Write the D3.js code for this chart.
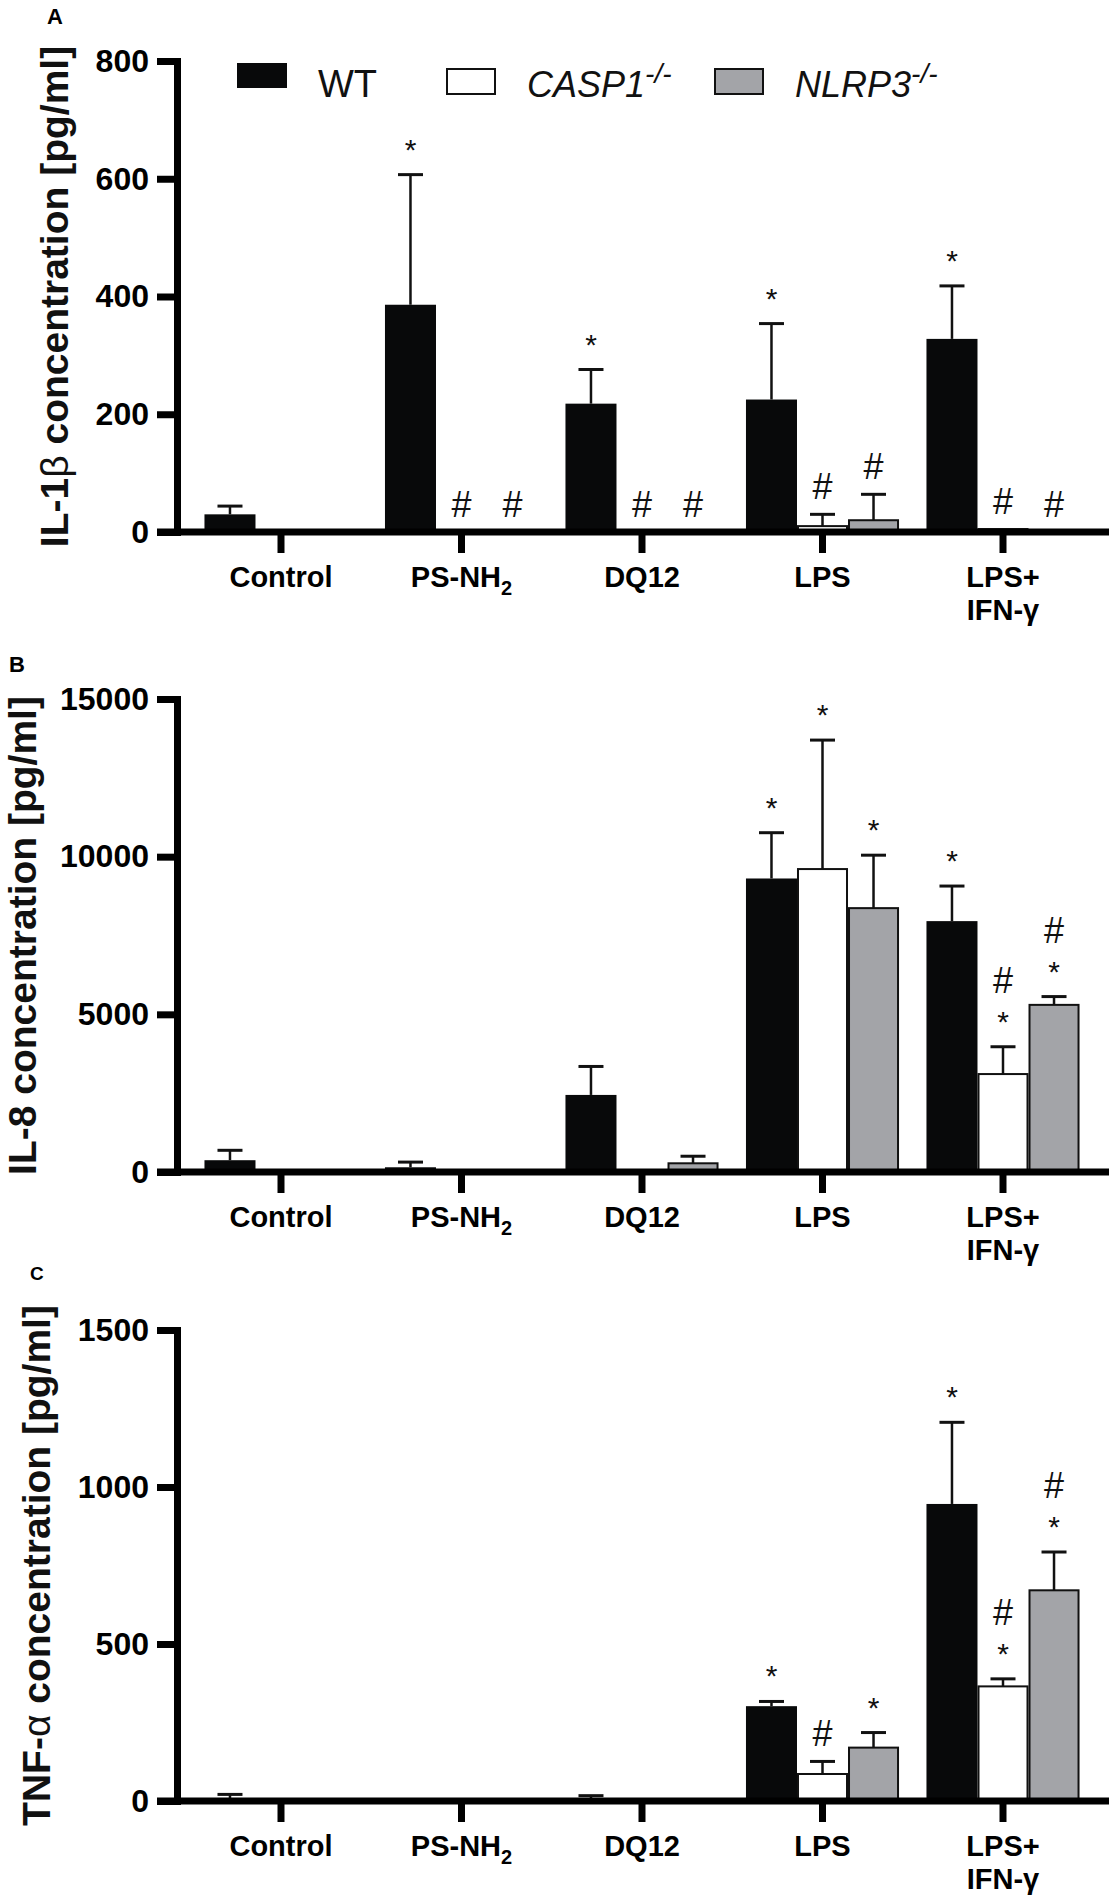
<!DOCTYPE html>
<html lang="en">
<head>
<meta charset="UTF-8" />
<title>IL-1b, IL-8 and TNF-a release</title>
<script src="https://d3js.org/d3.v7.min.js"></script>
<style>
  body { margin: 0; background: #fff; }
  svg { display: block; font-family: "Liberation Sans", Arial, sans-serif; }
  .tick text { fill: #000; }
</style>
</head>
<body>
<script>
// ----------------------------------
// 1) Data (read off the figure)
// ----------------------------------
const groups = ["Control", "PS-NH2", "DQ12", "LPS", "LPS+\nIFN-γ"];
const series = ["WT", "CASP1", "NLRP3"];

// Panel A: IL-1beta [pg/ml]
const il1bTicks = [0, 200, 400, 600, 800];
const il1b_WT = [30, 386, 218, 225, 328];
const il1b_WT_sd = [14, 221, 58, 129, 90];
const il1b_CASP1 = [0, 0, 0, 10, 5];
const il1b_CASP1_sd = [0, 0, 0, 20, 0];
const il1b_NLRP3 = [0, 0, 0, 20, 0];
const il1b_NLRP3_sd = [0, 0, 0, 44, 0];
const il1b_WT_sig = ["", "*", "*", "*", "*"];
const il1b_CASP1_sig = ["", "#", "#", "#", "#"];
const il1b_NLRP3_sig = ["", "#", "#", "#", "#"];

// Panel B: IL-8 [pg/ml]
const il8Ticks = [0, 5000, 10000, 15000];
const il8_WT = [374, 150, 2444, 9308, 7956];
const il8_WT_sd = [314, 164, 903, 1452, 1112];
const il8_CASP1 = [50, 40, 60, 9607, 3106];
const il8_CASP1_sd = [0, 0, 0, 4090, 866];
const il8_NLRP3 = [60, 50, 276, 8368, 5300];
const il8_NLRP3_sd = [0, 0, 224, 1679, 263];
const il8_WT_sig = ["", "", "", "*", "*"];
const il8_CASP1_sig = ["", "", "", "*", "#*"];
const il8_NLRP3_sig = ["", "", "", "*", "#*"];

// Panel C: TNF-alpha [pg/ml]
const tnfTicks = [0, 500, 1000, 1500];
const tnf_WT = [3, 0, 5, 302, 946];
const tnf_WT_sd = [18, 0, 12, 15, 260];
const tnf_CASP1 = [0, 0, 0, 86, 365];
const tnf_CASP1_sd = [0, 0, 0, 40, 24];
const tnf_NLRP3 = [0, 0, 0, 170, 671];
const tnf_NLRP3_sd = [0, 0, 0, 48, 122];
const tnf_WT_sig = ["", "", "", "*", "*"];
const tnf_CASP1_sig = ["", "", "", "#", "#*"];
const tnf_NLRP3_sig = ["", "", "", "*", "#*"];

// ----------------------------------
// 2) Panels (data + where they sit)
// ----------------------------------
const panels = [
  { tag: "A", tagX: 47, tagY: 24, tagSize: 22,
    title: [["IL-1", "bold"], ["β", "normal"], [" concentration [pg/ml]", "bold"]],
    titleX: 68, ticks: il1bTicks, yRange: [532, 61],
    mean: [il1b_WT, il1b_CASP1, il1b_NLRP3],
    sd: [il1b_WT_sd, il1b_CASP1_sd, il1b_NLRP3_sd],
    sig: [il1b_WT_sig, il1b_CASP1_sig, il1b_NLRP3_sig], legend: true },
  { tag: "B", tagX: 9, tagY: 672, tagSize: 22,
    title: [["IL-8 concentration [pg/ml]", "bold"]],
    titleX: 36, ticks: il8Ticks, yRange: [1172, 699],
    mean: [il8_WT, il8_CASP1, il8_NLRP3],
    sd: [il8_WT_sd, il8_CASP1_sd, il8_NLRP3_sd],
    sig: [il8_WT_sig, il8_CASP1_sig, il8_NLRP3_sig] },
  { tag: "C", tagX: 30, tagY: 1280, tagSize: 19,
    title: [["TNF-", "bold"], ["α", "normal"], [" concentration [pg/ml]", "bold"]],
    titleX: 50, ticks: tnfTicks, yRange: [1801, 1330],
    mean: [tnf_WT, tnf_CASP1, tnf_NLRP3],
    sd: [tnf_WT_sd, tnf_CASP1_sd, tnf_NLRP3_sd],
    sig: [tnf_WT_sig, tnf_CASP1_sig, tnf_NLRP3_sig] }
];

const fills = { WT: "#08090a", CASP1: "#ffffff", NLRP3: "#a3a4a8" };

// ----------------------------------
// 3) Setup
// ----------------------------------
const width = 1112, height = 1897;
const axisX = 177;     // y-axis position
const axisRight = 1109;

const svg = d3.select("body").append("svg")
  .attr("width", width)
  .attr("height", height);

const x = d3.scaleBand()
  .domain(groups)
  .range([190.75, 1093.25])
  .paddingInner(0.152)
  .paddingOuter(0.076);

const xs = d3.scaleBand()
  .domain(series)
  .range([0, x.bandwidth()]);

// ----------------------------------
// 4) Draw each panel
// ----------------------------------
panels.forEach(p => {
  const y = d3.scaleLinear()
    .domain([0, d3.max(p.ticks)])
    .range(p.yRange);
  const y0 = y(0);
  const g = svg.append("g");

  // flatten bars
  const bars = [];
  groups.forEach((grp, gi) => {
    series.forEach((s, si) => {
      bars.push({ grp, s, v: p.mean[si][gi], sd: p.sd[si][gi], sig: p.sig[si][gi] });
    });
  });

  const cx = d => x(d.grp) + xs(d.s) + xs.bandwidth() / 2;

  g.selectAll(".bar")
    .data(bars.filter(d => d.v > 0))
    .enter()
    .append("rect")
    .attr("class", "bar")
    .attr("x", d => x(d.grp) + xs(d.s) + (d.s === "WT" ? 0 : 1))
    .attr("width", d => xs.bandwidth() - (d.s === "WT" ? 0 : 2))
    .attr("y", d => y(d.v))
    .attr("height", d => y0 - y(d.v))
    .attr("fill", d => fills[d.s])
    .attr("stroke", d => d.s === "WT" ? "none" : "#111")
    .attr("stroke-width", 2);

  // error bars (upper only)
  const err = g.selectAll(".err")
    .data(bars.filter(d => d.sd > 0))
    .enter()
    .append("g")
    .attr("class", "err")
    .attr("stroke", "#111");
  err.append("line")
    .attr("x1", cx).attr("x2", cx)
    .attr("y1", d => y(d.v)).attr("y2", d => y(d.v + d.sd))
    .attr("stroke-width", 2.5);
  err.append("line")
    .attr("x1", d => cx(d) - 12.5).attr("x2", d => cx(d) + 12.5)
    .attr("y1", d => y(d.v + d.sd)).attr("y2", d => y(d.v + d.sd))
    .attr("stroke-width", 3);

  // significance marks, stacked upwards from the error bar top
  bars.filter(d => d.sig).forEach(d => {
    const base = y(d.v + d.sd);
    d.sig.split("").reverse().forEach((ch, i) => {
      g.append("text")
        .attr("x", cx(d))
        .attr("y", base - 15 - 39 * i)
        .attr("text-anchor", "middle")
        .attr("font-size", ch === "#" ? 36 : 30)
        .attr("fill", "#111")
        .text(ch);
    });
  });

  // x-axis line
  g.append("line")
    .attr("x1", axisX - 20).attr("x2", axisRight)
    .attr("y1", y0).attr("y2", y0)
    .attr("stroke", "#000").attr("stroke-width", 7);

  // x ticks + labels
  const xAxis = g.append("g")
    .attr("transform", `translate(0,${y0})`)
    .call(d3.axisBottom(x).tickSize(21).tickSizeOuter(0));
  xAxis.select(".domain").remove();
  xAxis.selectAll(".tick line").attr("stroke", "#000").attr("stroke-width", 7);
  xAxis.selectAll(".tick text").each(function(d) {
    const t = d3.select(this).text("")
      .attr("y", 55).attr("dy", null)
      .attr("font-size", 29).attr("font-weight", "bold")
      .attr("font-family", "'Liberation Sans', Arial, sans-serif");
    if (d === "PS-NH2") {
      t.append("tspan").text("PS-NH");
      t.append("tspan").attr("font-size", 20).attr("dy", 8).text("2");
    } else {
      d.split("\n").forEach((line, i) => {
        t.append("tspan").attr("x", 0).attr("dy", i ? 33 : 0).text(line);
      });
    }
  });

  // y-axis
  const yAxis = g.append("g")
    .attr("transform", `translate(${axisX},0)`)
    .call(d3.axisLeft(y).tickValues(p.ticks).tickSize(20).tickSizeOuter(0)
      .tickPadding(8).tickFormat(d3.format("d")));
  yAxis.select(".domain")
    .attr("stroke", "#000").attr("stroke-width", 7).attr("stroke-linecap", "square");
  yAxis.selectAll(".tick line").attr("stroke", "#000").attr("stroke-width", 7);
  yAxis.selectAll(".tick text")
    .attr("font-size", 32).attr("font-weight", "bold")
    .attr("font-family", "'Liberation Sans', Arial, sans-serif");

  // y title
  const yMid = (p.yRange[0] + p.yRange[1]) / 2;
  const title = g.append("text")
    .attr("transform", `translate(${p.titleX},${yMid}) rotate(-90)`)
    .attr("text-anchor", "middle")
    .attr("font-size", 39)
    .attr("fill", "#111");
  p.title.forEach(([txt, w]) => {
    title.append("tspan").attr("font-weight", w).text(txt);
  });

  // panel tag
  g.append("text")
    .attr("x", p.tagX).attr("y", p.tagY)
    .attr("font-size", p.tagSize).attr("font-weight", "bold")
    .text(p.tag);

  // legend (panel A only)
  if (p.legend) {
    const legendPos = [
      { rx: 237, ry: 63, tx: 318, italic: false, label: "WT", sup: "", size: 38 },
      { rx: 446, ry: 69, tx: 527, italic: true, label: "CASP1", sup: "-/-", size: 36 },
      { rx: 714, ry: 69, tx: 795, italic: true, label: "NLRP3", sup: "-/-", size: 36 }
    ];
    const legend = g.append("g").attr("class", "legend");
    series.forEach((s, i) => {
      const L = legendPos[i];
      legend.append("rect")
        .attr("x", L.rx + (s === "WT" ? 0 : 1)).attr("y", L.ry)
        .attr("width", 50 - (s === "WT" ? 0 : 2)).attr("height", 25)
        .attr("fill", fills[s])
        .attr("stroke", s === "WT" ? "none" : "#111")
        .attr("stroke-width", 2);
      const t = legend.append("text")
        .attr("x", L.tx).attr("y", 97)
        .attr("font-size", L.size)
        .attr("font-style", L.italic ? "italic" : "normal")
        .attr("fill", "#111");
      t.append("tspan").text(L.label);
      if (L.sup) t.append("tspan").attr("font-size", 28).attr("dy", -14).text(L.sup);
    });
  }
});
</script>
</body>
</html>
